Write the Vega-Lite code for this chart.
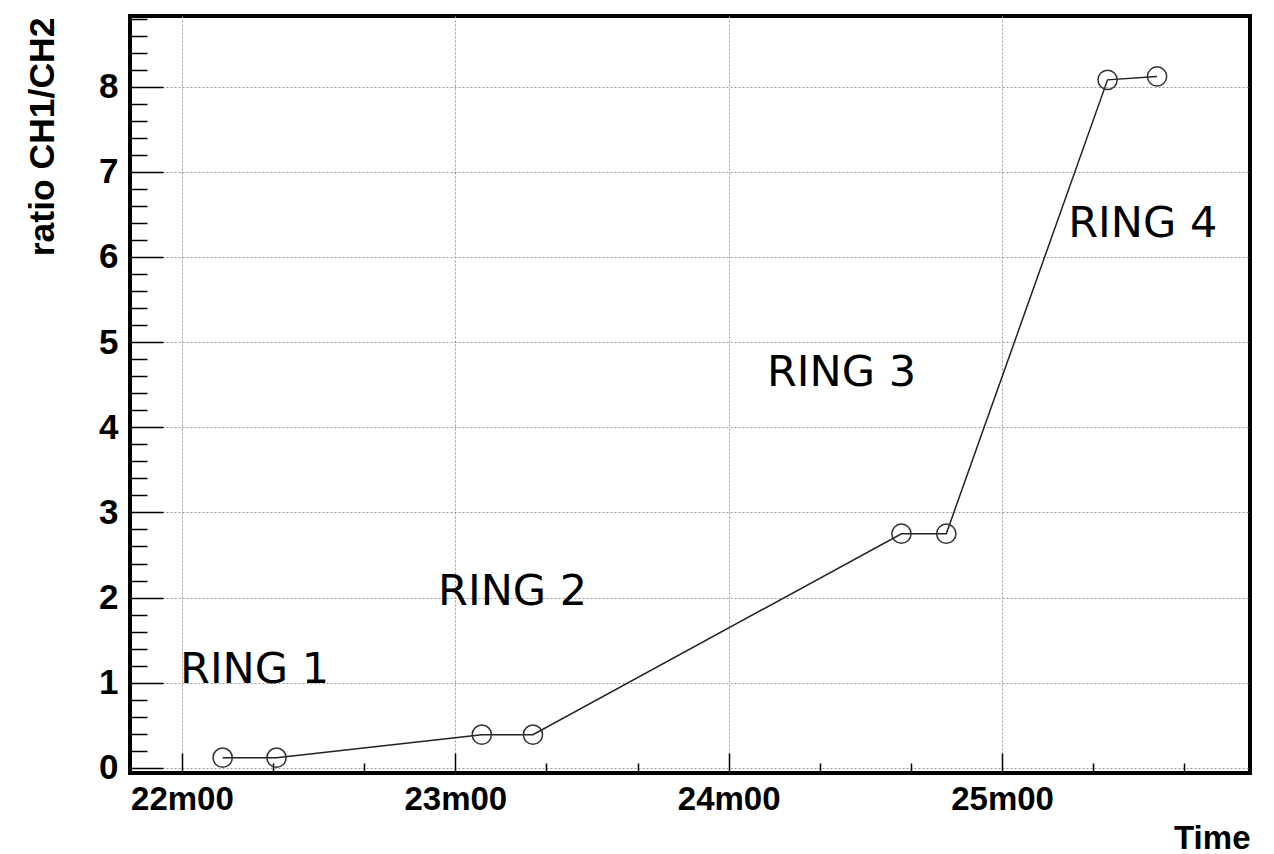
{
  "$schema": "https://vega.github.io/schema/vega-lite/v6.json",
  "width": 1120,
  "height": 757,
  "autosize": {"type": "none"},
  "padding": {"left": 130, "top": 16, "right": 24, "bottom": 81},
  "background": "white",
  "config": {
    "view": {"stroke": "black", "strokeWidth": 4},
    "axis": {
      "domain": false,
      "grid": true,
      "gridDash": [2, 2],
      "gridColor": "#999999",
      "gridWidth": 1,
      "tickColor": "black",
      "tickWidth": 1.5,
      "labelFont": "Liberation Sans",
      "labelFontWeight": "bold",
      "labelColor": "black",
      "labelFlush": false,
      "labelOverlap": false,
      "titleFont": "Liberation Sans",
      "titleFontWeight": "bold",
      "titleColor": "black"
    }
  },
  "datasets": {
    "points": [
      {"t": 22.149, "ratio": 0.12},
      {"t": 22.346, "ratio": 0.12},
      {"t": 23.097, "ratio": 0.39},
      {"t": 23.284, "ratio": 0.39},
      {"t": 24.632, "ratio": 2.75},
      {"t": 24.796, "ratio": 2.75},
      {"t": 25.386, "ratio": 8.08},
      {"t": 25.567, "ratio": 8.12}
    ],
    "rings": [
      {"label": "RING 1", "t": 21.993, "ratio": 1.0},
      {"label": "RING 2", "t": 22.937, "ratio": 1.915},
      {"label": "RING 3", "t": 24.14, "ratio": 4.49},
      {"label": "RING 4", "t": 25.242, "ratio": 6.24}
    ]
  },
  "layer": [
    {
      "data": {"name": "points"},
      "mark": {"type": "line", "color": "#222222", "strokeWidth": 1.5},
      "encoding": {
        "x": {
          "field": "t",
          "type": "quantitative",
          "scale": {"domain": [21.81, 25.907], "nice": false, "zero": false},
          "axis": {
            "values": [22, 22.33333, 22.66667, 23, 23.33333, 23.66667, 24, 24.33333, 24.66667, 25, 25.33333, 25.66667],
            "tickCount": 200,
            "labelExpr": "abs(datum.value - round(datum.value)) < 0.01 ? format(round(datum.value), 'd') + 'm00' : ''",
            "tickSize": {"condition": {"test": "abs(datum.value - round(datum.value)) < 0.01", "value": -20}, "value": -10},
            "gridOpacity": {"condition": {"test": "abs(datum.value - round(datum.value)) < 0.01", "value": 1}, "value": 0},
            "labelFontSize": 33,
            "labelPadding": 30,
            "title": "Time",
            "titleFontSize": 33,
            "titleX": 1120,
            "titleY": 75,
            "titleAlign": "right",
            "titleBaseline": "alphabetic"
          }
        },
        "y": {
          "field": "ratio",
          "type": "quantitative",
          "scale": {"domain": [-0.06, 8.83], "nice": false, "zero": false},
          "axis": {
            "values": [0, 0.2, 0.4, 0.6, 0.8, 1, 1.2, 1.4, 1.6, 1.8, 2, 2.2, 2.4, 2.6, 2.8, 3, 3.2, 3.4, 3.6, 3.8, 4, 4.2, 4.4, 4.6, 4.8, 5, 5.2, 5.4, 5.6, 5.8, 6, 6.2, 6.4, 6.6, 6.8, 7, 7.2, 7.4, 7.6, 7.8, 8, 8.2, 8.4, 8.6, 8.8],
            "tickCount": 200,
            "labelExpr": "abs(datum.value - round(datum.value)) < 0.01 ? format(round(datum.value), 'd') : ''",
            "tickSize": {"condition": {"test": "abs(datum.value - round(datum.value)) < 0.01", "value": -33}, "value": -17},
            "gridOpacity": {"condition": {"test": "abs(datum.value - round(datum.value)) < 0.01", "value": 1}, "value": 0},
            "labelFontSize": 35,
            "labelPadding": 45,
            "labelBaseline": "middle",
            "title": "ratio CH1/CH2",
            "titleFontSize": 35.5,
            "titleAngle": -90,
            "titleX": -77,
            "titleY": 1,
            "titleAlign": "right",
            "titleBaseline": "alphabetic"
          }
        }
      }
    },
    {
      "data": {"name": "points"},
      "mark": {"type": "point", "shape": "circle", "filled": false, "size": 370, "color": "#333333", "strokeWidth": 1.5, "opacity": 1},
      "encoding": {
        "x": {"field": "t", "type": "quantitative", "scale": {"domain": [21.81, 25.907], "nice": false, "zero": false}},
        "y": {"field": "ratio", "type": "quantitative", "scale": {"domain": [-0.06, 8.83], "nice": false, "zero": false}}
      }
    },
    {
      "data": {"name": "rings"},
      "mark": {"type": "text", "align": "left", "baseline": "alphabetic", "font": "DejaVu Sans", "fontSize": 43, "color": "black"},
      "encoding": {
        "x": {"field": "t", "type": "quantitative", "scale": {"domain": [21.81, 25.907], "nice": false, "zero": false}},
        "y": {"field": "ratio", "type": "quantitative", "scale": {"domain": [-0.06, 8.83], "nice": false, "zero": false}},
        "text": {"field": "label"}
      }
    }
  ]
}
